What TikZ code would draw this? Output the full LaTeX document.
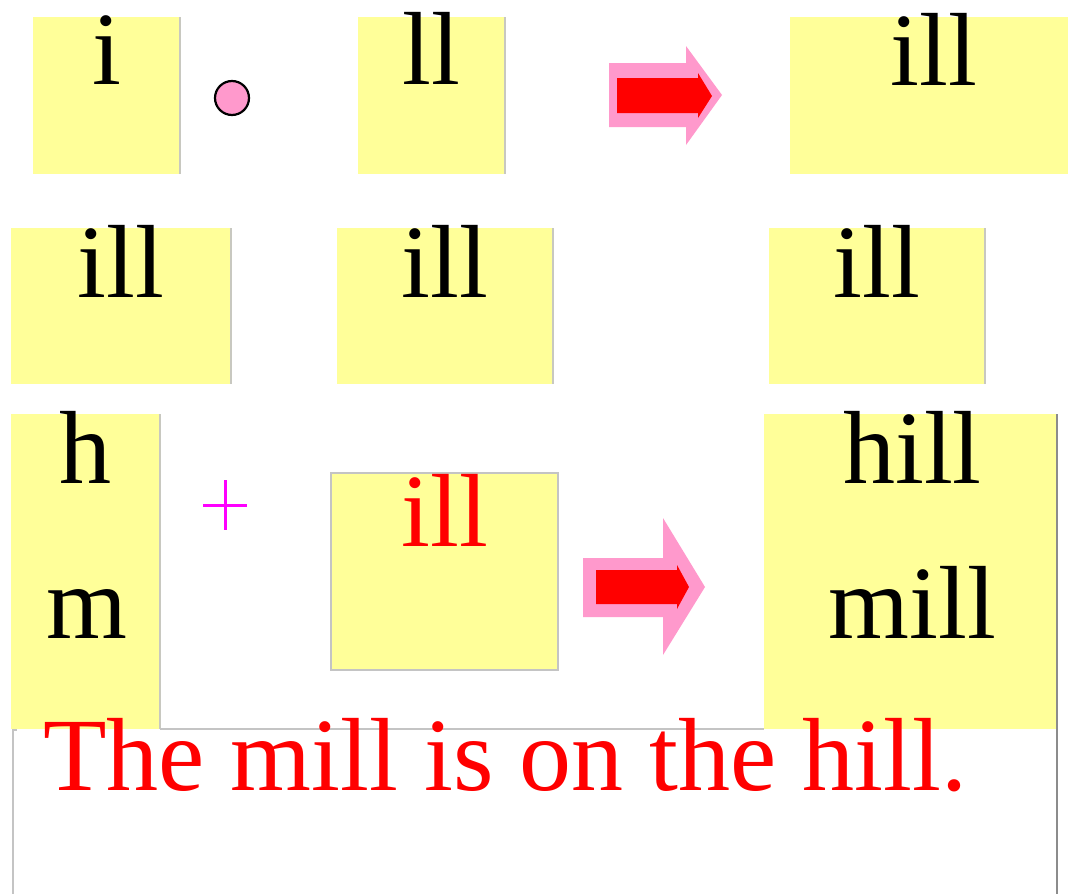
\documentclass[tikz,border=0pt]{standalone}
\usepackage{fontspec}
\setmainfont{Liberation Serif}
\definecolor{boxyellow}{HTML}{FFFF99}
\definecolor{edgegray}{HTML}{C8C8C0}
\definecolor{framegray}{HTML}{C4C4C4}
\definecolor{darkedge}{HTML}{8C8C8C}
\definecolor{arrowpink}{HTML}{FF99CC}
\definecolor{arrowred}{HTML}{FF0000}
\definecolor{plusmag}{HTML}{FF00FF}
\begin{document}
\begin{tikzpicture}[x=1pt,y=-1pt,
  ybox/.style={fill=boxyellow, draw=none, inner sep=0pt, outer sep=0pt, anchor=north west},
  word/.style={inner sep=0pt, outer sep=0pt, anchor=base, font=\fontsize{104}{110}\selectfont},
  rightedge/.style={draw=edgegray, line width=1.6pt},
  bigarrow/.style={fill=arrowpink, draw=none},
  innerarrow/.style={fill=arrowred, draw=none},
  frame/.style={draw=framegray, line width=1.4pt}]
\useasboundingbox (0,0) rectangle (1068,894);
\fill[white] (0,0) rectangle (1068,894);

% row 1
\node[ybox, minimum width=147pt, minimum height=157pt] (A) at (33,17) {};
\draw[rightedge] (A.north east) -- (A.south east);
\node[circle, fill=arrowpink, draw=black, line width=2.2pt, minimum size=34pt, inner sep=0pt] (dot) at (232,98) {};
\node[ybox, minimum width=147pt, minimum height=157pt] (B) at (358,17) {};
\draw[rightedge] (B.north east) -- (B.south east);
\fill[bigarrow] (609,63) -- (686,63) -- (686,46) -- (722,95) -- (686,145) -- (686,127) -- (609,127) -- cycle;
\fill[innerarrow] (617,78) -- (698,78) -- (698,73) -- (712,96) -- (698,118) -- (698,113) -- (617,113) -- cycle;
\node[ybox, minimum width=278pt, minimum height=157pt] (C) at (790,17) {};

% row 2
\node[ybox, minimum width=220pt, minimum height=156pt] (D) at (11,228) {};
\draw[rightedge] (D.north east) -- (D.south east);
\node[ybox, minimum width=216pt, minimum height=156pt] (E) at (337,228) {};
\draw[rightedge] (E.north east) -- (E.south east);
\node[ybox, minimum width=216pt, minimum height=156pt] (F) at (769,228) {};
\draw[rightedge] (F.north east) -- (F.south east);

% row 3
\node[ybox, minimum width=149pt, minimum height=315pt] (G) at (11,414) {};
\draw[rightedge] (G.north east) -- (G.south east);
\draw[plusmag, line width=3pt] (203,505) -- (247,505);
\draw[plusmag, line width=3pt] (225,480) -- (225,530);
\node[ybox, minimum width=227pt, minimum height=197pt, draw=framegray, line width=1.4pt] (H) at (331,473) {};
\fill[bigarrow] (583,558) -- (663,558) -- (663,518) -- (705,587) -- (663,655) -- (663,617) -- (583,617) -- cycle;
\fill[innerarrow] (596,570) -- (677,570) -- (677,565) -- (689,587) -- (677,609) -- (677,604) -- (596,604) -- cycle;
\node[ybox, minimum width=293pt, minimum height=315pt] (I) at (764,414) {};

% large white frame round the sentence
\coordinate (Fbl) at (13,894);
\coordinate (Ftl) at (13,730);
\coordinate (Ibottom) at (1057,894);
\draw[frame] (Fbl) -- (Ftl) -- ++(4,0);
\draw[frame] (G.south east) -- (I.south west);
\draw[darkedge, line width=2pt] (I.north east) -- (Ibottom);

% texts
\node[word] (ti) at (106.5,84) {i};
\node[word] (tll) at (431.5,84) {ll};
\node[word] (tillA) at (934,85) {ill};
\node[word] (tillB) at (121,297) {ill};
\node[word] (tillC) at (445,297) {ill};
\node[word] (tillD) at (877,297) {ill};
\node[word] (th) at (85.5,483) {h};
\node[word] (tm) at (87,638) {m};
\node[word, text=arrowred] (tillE) at (445,546) {ill};
\node[word] (thill) at (912.5,483) {hill};
\node[word] (tmill) at (912.5,638) {mill};
\node[word, text=arrowred, anchor=base west] (sent) at (43,790) {The mill is on the hill.};
\end{tikzpicture}
\end{document}
